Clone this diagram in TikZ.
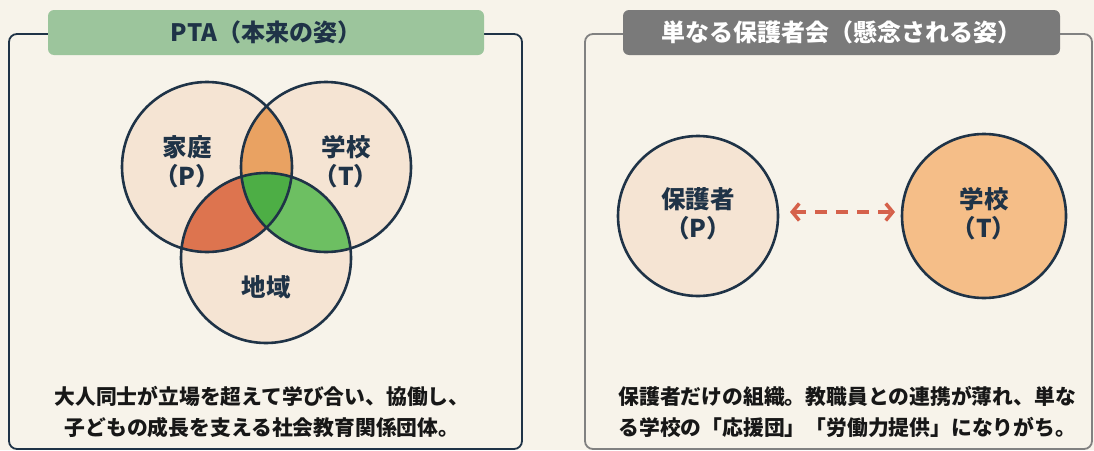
\documentclass[tikz,border=0pt]{standalone}
\usepackage{fontspec}
\setmainfont{Noto Sans CJK JP}
\usetikzlibrary{arrows.meta}

\definecolor{paper}{HTML}{F7F3EA}
\definecolor{navy}{HTML}{1F3347}
\definecolor{peach}{HTML}{F5E4D3}
\definecolor{amber}{HTML}{E9A262}
\definecolor{brick}{HTML}{DD744F}
\definecolor{leaf}{HTML}{6DBF62}
\definecolor{moss}{HTML}{4DAE45}
\definecolor{sage}{HTML}{9CC59C}
\definecolor{slate}{HTML}{7A7A7A}
\definecolor{apricot}{HTML}{F5BE88}
\definecolor{rust}{HTML}{D5614B}
\definecolor{ink}{HTML}{171717}

\tikzset{
  banner/.style = {rounded corners = 6pt, minimum width = 436pt, minimum height = 45pt, inner sep = 0, font = \fontsize{24}{28}\selectfont\bfseries},
  frame/.style = {line width = 1.8pt, rounded corners = 8pt},
  venn/.style = {circle, fill = peach, inner sep = 0, outer sep = 0, minimum size = 170pt},
  ring/.style = {navy, line width = 2.6pt},
  lbl/.style = {navy, align = center, font = \fontsize{24.5}{29}\selectfont\bfseries},
  note/.style = {ink, font = \fontsize{20.8}{31}\selectfont\bfseries},
  dashlink/.style = {rust, line width = 3.5pt, dash pattern = on 12pt off 9pt, {Straight Barb[length = 7pt, width = 17pt]}-{Straight Barb[length = 7pt, width = 17pt]}}
}

\begin{document}
\begin{tikzpicture}[x = 1pt, y = -1pt]
\def\vr{85pt}
\fill [paper] (0, 0) rectangle (1094, 450);
\useasboundingbox (0, 0) rectangle (1094, 450);

% left panel
\draw [frame, navy] (9, 34) rectangle (522, 449);
\node [banner, fill = sage, text = navy] (ptatitle) at (266, 32.5) {PTA（本来の姿）};

\node [venn] (home) at (207, 167) {};
\node [venn] (school) at (326, 167) {};
\node [venn] (area) at (266, 258) {};

\begin{scope}
\clip (home.center) circle [radius = \vr];
\fill [amber] (school.center) circle [radius = \vr];
\fill [brick] (area.center) circle [radius = \vr];
\end{scope}
\begin{scope}
\clip (school.center) circle [radius = \vr];
\fill [leaf] (area.center) circle [radius = \vr];
\clip (area.center) circle [radius = \vr];
\fill [moss] (home.center) circle [radius = \vr];
\end{scope}

\draw [ring] (home.center) circle [radius = \vr];
\draw [ring] (school.center) circle [radius = \vr];
\draw [ring] (area.center) circle [radius = \vr];

\node [lbl] (homelbl) at (187, 162) {家庭\\（P）};
\node [lbl] (schoollbl) at (346, 162) {学校\\（T）};
\node [lbl] (arealbl) at (266, 287) {地域};

\node [note, align = center] (ptanote) at (262, 412) {大人同士が立場を超えて学び合い、協働し、\\子どもの成長を支える社会教育関係団体。};

% right panel
\draw [frame, slate!95] (585, 34) rectangle (1092, 449);
\node [banner, fill = slate, text = white, minimum width = 437pt] (pgtitle) at (841.5, 32.5) {単なる保護者会（懸念される姿）};

\node [venn, fill = peach, draw = navy, line width = 2.6pt, minimum size = 160pt] (guard) at (698, 216) {};
\node [venn, fill = apricot, draw = navy, line width = 2.6pt, minimum size = 164pt] (school2) at (984, 216) {};
\node [lbl] (guardlbl) at (698, 214) {保護者\\（P）};
\node [lbl] (school2lbl) at (984, 214) {学校\\（T）};

\draw [dashlink, shorten < = 12pt, shorten > = 7pt] ([yshift = 4pt] guard.east) -- ([yshift = 4pt] school2.west);

\node [note, align = left, anchor = west] (pgnote) at (615, 412) {保護者だけの組織。教職員との連携が薄れ、単な\\る学校の「応援団」「労働力提供」になりがち。};
\end{tikzpicture}
\end{document}
